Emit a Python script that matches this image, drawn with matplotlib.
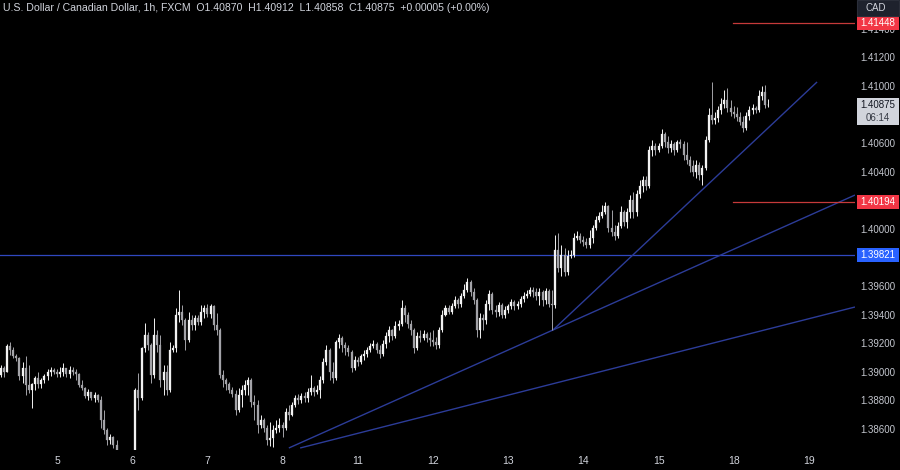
import matplotlib
matplotlib.use("Agg")
import matplotlib.pyplot as plt
from matplotlib.patches import Rectangle
from matplotlib.transforms import blended_transform_factory
import numpy as np

# ---------------- data (hourly candles, index 0 = day 5 00:00) ----------------
first_open = 1.38985
closes = [
    # day 4 (last 18 hours)
    1.39034, 1.39006, 1.39187, 1.39159, 1.39117, 1.39103, 1.38978, 1.39034, 1.38915, 1.38880, 1.38922, 1.38964, 1.38922, 1.38950, 1.38978, 1.39006, 1.39020, 1.39006,
    # day 5
    1.38992, 1.39006, 1.39034, 1.38992, 1.39020, 1.39006, 1.38992, 1.38915, 1.38894, 1.38838, 1.38866, 1.38824, 1.38845, 1.38810, 1.38670, 1.38600, 1.38530, 1.38551, 1.38495, 1.38425, 1.38355, 1.38320, 1.38334, 1.38348,
    # day 6
    1.38390, 1.38880, 1.38824, 1.39173, 1.39264, 1.39194, 1.38985, 1.39264, 1.39194, 1.38950, 1.39006, 1.38880, 1.39159, 1.39173, 1.39404, 1.39425, 1.39369, 1.39229, 1.39369, 1.39334, 1.39383, 1.39355, 1.39425, 1.39453,
    # day 7
    1.39411, 1.39467, 1.39334, 1.39299, 1.38985, 1.38950, 1.38922, 1.38880, 1.38852, 1.38740, 1.38845, 1.38880, 1.38915, 1.38950, 1.38796, 1.38775, 1.38635, 1.38670, 1.38614, 1.38530, 1.38544, 1.38600, 1.38614, 1.38635,
    # day 8
    1.38614, 1.38726, 1.38705, 1.38775, 1.38824, 1.38810, 1.38838, 1.38824, 1.38866, 1.38894, 1.38866, 1.38880, 1.38950, 1.39076, 1.39159, 1.39006, 1.38964, 1.39215, 1.39243, 1.39194, 1.39173, 1.39145, 1.39034, 1.39090,
    # day 11
    1.39076, 1.39117, 1.39131, 1.39159, 1.39187, 1.39201, 1.39159, 1.39131, 1.39201, 1.39257, 1.39299, 1.39257, 1.39327, 1.39341, 1.39453, 1.39404, 1.39341, 1.39299, 1.39173, 1.39257, 1.39243, 1.39271, 1.39243, 1.39229,
    # day 12
    1.39215, 1.39194, 1.39299, 1.39404, 1.39453, 1.39425, 1.39467, 1.39509, 1.39481, 1.39537, 1.39579, 1.39635, 1.39565, 1.39509, 1.39299, 1.39383, 1.39369, 1.39481, 1.39551, 1.39439, 1.39425, 1.39474, 1.39404, 1.39439,
    # day 13
    1.39467, 1.39495, 1.39467, 1.39481, 1.39516, 1.39537, 1.39551, 1.39579, 1.39565, 1.39537, 1.39565, 1.39509, 1.39572, 1.39481, 1.39474, 1.39859, 1.39733, 1.39824, 1.39705, 1.39817, 1.39824, 1.39943, 1.39957, 1.39929,
    # day 14
    1.39915, 1.39894, 1.39943, 1.40012, 1.40068, 1.40096, 1.40124, 1.40166, 1.40012, 1.39985, 1.39957, 1.40026, 1.40124, 1.40054, 1.40124, 1.40208, 1.40124, 1.40250, 1.40306, 1.40348, 1.40306, 1.40558, 1.40586, 1.40558,
    # day 15
    1.40586, 1.40670, 1.40614, 1.40572, 1.40600, 1.40558, 1.40614, 1.40600, 1.40523, 1.40488, 1.40446, 1.40404, 1.40453, 1.40383, 1.40432, 1.40628, 1.40803, 1.40768, 1.40782, 1.40838, 1.40880, 1.40908, 1.40852, 1.40824,
    # day 18
    1.40810, 1.40789, 1.40754, 1.40712, 1.40796, 1.40838, 1.40852, 1.40838, 1.40936, 1.40964, 1.40870, 1.40875,
]
highs = [
    1.39055, 1.39048, 1.39201, 1.39215, 1.39180, 1.39131, 1.39110, 1.39076, 1.39117, 1.39055, 1.38929, 1.38978, 1.39006, 1.38964, 1.38992, 1.39027, 1.39041, 1.39034,
    1.39027, 1.39041, 1.39069, 1.39027, 1.39048, 1.39041, 1.39027, 1.38999, 1.38950, 1.38901, 1.38887, 1.38866, 1.38866, 1.38852, 1.38838, 1.38740, 1.38614, 1.38572, 1.38558, 1.38530, 1.38446, 1.38390, 1.38376, 1.38390,
    1.38425, 1.38894, 1.38999, 1.39180, 1.39348, 1.39285, 1.39208, 1.39383, 1.39299, 1.39264, 1.39055, 1.39055, 1.39215, 1.39194, 1.39453, 1.39579, 1.39474, 1.39383, 1.39425, 1.39404, 1.39404, 1.39404, 1.39474, 1.39474,
    1.39481, 1.39481, 1.39474, 1.39418, 1.39313, 1.39020, 1.38964, 1.38936, 1.38901, 1.38880, 1.38894, 1.38915, 1.38950, 1.38971, 1.38964, 1.38845, 1.38810, 1.38705, 1.38684, 1.38635, 1.38656, 1.38635, 1.38670, 1.38684,
    1.38656, 1.38754, 1.38775, 1.38796, 1.38845, 1.38852, 1.38859, 1.38866, 1.38894, 1.38985, 1.38908, 1.38915, 1.38978, 1.39103, 1.39194, 1.39173, 1.39076, 1.39229, 1.39271, 1.39257, 1.39215, 1.39194, 1.39159, 1.39117,
    1.39110, 1.39131, 1.39159, 1.39180, 1.39208, 1.39229, 1.39215, 1.39194, 1.39229, 1.39285, 1.39327, 1.39306, 1.39362, 1.39369, 1.39509, 1.39474, 1.39425, 1.39369, 1.39313, 1.39285, 1.39299, 1.39299, 1.39285, 1.39285,
    1.39299, 1.39250, 1.39320, 1.39439, 1.39474, 1.39474, 1.39488, 1.39537, 1.39523, 1.39558, 1.39621, 1.39663, 1.39649, 1.39593, 1.39523, 1.39418, 1.39411, 1.39509, 1.39579, 1.39565, 1.39474, 1.39495, 1.39488, 1.39467,
    1.39481, 1.39516, 1.39509, 1.39502, 1.39537, 1.39565, 1.39579, 1.39600, 1.39600, 1.39593, 1.39593, 1.39579, 1.39593, 1.39586, 1.39579, 1.39964, 1.39978, 1.39894, 1.39873, 1.39859, 1.39859, 1.39978, 1.39992, 1.39978,
    1.39957, 1.39943, 1.39999, 1.40033, 1.40096, 1.40124, 1.40173, 1.40194, 1.40173, 1.40138, 1.40033, 1.40054, 1.40166, 1.40138, 1.40152, 1.40243, 1.40264, 1.40278, 1.40348, 1.40376, 1.40376, 1.40586, 1.40628, 1.40607,
    1.40607, 1.40705, 1.40684, 1.40656, 1.40628, 1.40614, 1.40628, 1.40635, 1.40621, 1.40614, 1.40516, 1.40488, 1.40488, 1.40474, 1.40453, 1.40656, 1.40852, 1.41034, 1.40824, 1.40866, 1.40922, 1.40978, 1.40992, 1.40908,
    1.40866, 1.40859, 1.40824, 1.40796, 1.40824, 1.40866, 1.40880, 1.40866, 1.40978, 1.41006, 1.41013, 1.40912,
]
lows = [
    1.38971, 1.38971, 1.39006, 1.39124, 1.39103, 1.39083, 1.38950, 1.38929, 1.38845, 1.38859, 1.38754, 1.38880, 1.38894, 1.38894, 1.38929, 1.38950, 1.38978, 1.38992,
    1.38971, 1.38971, 1.38978, 1.38971, 1.38964, 1.38985, 1.38950, 1.38901, 1.38880, 1.38824, 1.38810, 1.38810, 1.38796, 1.38796, 1.38614, 1.38572, 1.38495, 1.38502, 1.38474, 1.38376, 1.38320, 1.38264, 1.38285, 1.38306,
    1.38320, 1.38376, 1.38740, 1.38810, 1.39145, 1.39159, 1.38929, 1.38964, 1.39145, 1.38901, 1.38845, 1.38845, 1.38866, 1.39145, 1.39145, 1.39355, 1.39334, 1.39159, 1.39215, 1.39299, 1.39299, 1.39334, 1.39334, 1.39383,
    1.39390, 1.39383, 1.39299, 1.39264, 1.38964, 1.38901, 1.38880, 1.38859, 1.38831, 1.38705, 1.38726, 1.38761, 1.38845, 1.38845, 1.38761, 1.38670, 1.38579, 1.38614, 1.38586, 1.38495, 1.38488, 1.38481, 1.38579, 1.38586,
    1.38551, 1.38600, 1.38670, 1.38698, 1.38761, 1.38782, 1.38789, 1.38796, 1.38796, 1.38845, 1.38838, 1.38852, 1.38824, 1.38929, 1.39055, 1.38950, 1.38929, 1.38950, 1.39173, 1.39145, 1.39124, 1.39117, 1.39006, 1.39020,
    1.39048, 1.39062, 1.39090, 1.39110, 1.39145, 1.39173, 1.39138, 1.39103, 1.39117, 1.39173, 1.39215, 1.39229, 1.39243, 1.39299, 1.39327, 1.39355, 1.39313, 1.39264, 1.39138, 1.39159, 1.39215, 1.39229, 1.39215, 1.39187,
    1.39187, 1.39166, 1.39173, 1.39285, 1.39397, 1.39411, 1.39411, 1.39453, 1.39453, 1.39460, 1.39523, 1.39565, 1.39537, 1.39481, 1.39250, 1.39243, 1.39299, 1.39341, 1.39439, 1.39411, 1.39390, 1.39397, 1.39383, 1.39383,
    1.39418, 1.39446, 1.39439, 1.39446, 1.39460, 1.39495, 1.39523, 1.39537, 1.39530, 1.39509, 1.39474, 1.39467, 1.39481, 1.39460, 1.39299, 1.39453, 1.39705, 1.39677, 1.39677, 1.39684, 1.39803, 1.39810, 1.39929, 1.39908,
    1.39887, 1.39873, 1.39873, 1.39908, 1.39999, 1.40054, 1.40082, 1.40110, 1.39985, 1.39957, 1.39929, 1.39943, 1.40012, 1.40026, 1.40012, 1.40082, 1.40082, 1.40096, 1.40222, 1.40264, 1.40278, 1.40292, 1.40516, 1.40523,
    1.40544, 1.40572, 1.40579, 1.40537, 1.40544, 1.40523, 1.40544, 1.40572, 1.40488, 1.40460, 1.40404, 1.40376, 1.40362, 1.40348, 1.40313, 1.40418, 1.40614, 1.40740, 1.40740, 1.40754, 1.40810, 1.40852, 1.40824, 1.40796,
    1.40782, 1.40761, 1.40733, 1.40684, 1.40698, 1.40768, 1.40810, 1.40817, 1.40824, 1.40908, 1.40852, 1.40858,
]
start_index = -18
day_labels = ["5", "6", "7", "8", "11", "12", "13", "14", "15", "18", "19"]
# visible price-scale labels (the others are hidden behind the tag boxes)
price_ticks = [1.386, 1.388, 1.390, 1.392, 1.394, 1.396, 1.400,
               1.404, 1.406, 1.410, 1.412, 1.414]
# trend lines: (index, price) anchor pairs
trend_lines = [
    ((158.3, 1.39299), (242.6, 1.41034)),
    ((74.0, 1.38474), (254.7, 1.40243)),
    ((77.6, 1.38474), (254.7, 1.39460)),
]
hline_blue = 1.39821
red_levels = [1.41448, 1.40194]
red_start = 215.8
last_price = 1.40875
timer_text = "06:14"
header = ("U.S. Dollar / Canadian Dollar, 1h, FXCM  O1.40870  H1.40912  "
          "L1.40858  C1.40875  +0.00005 (+0.00%)")

# ---------------- figure ----------------
W, H = 900, 470
fig = plt.figure(figsize=(W / 100, H / 100), dpi=100, facecolor="black")
ax = fig.add_axes([0, 20 / H, 855 / W, 450 / H])
ax.set_facecolor("black")
XMIN, XMAX = -18.19, 254.7
YMIN, YMAX = 1.38460, 1.41607
ax.set_xlim(XMIN, XMAX)
ax.set_ylim(YMIN, YMAX)
for s in ax.spines.values():
    s.set_visible(False)

c = np.array(closes)
h = np.array(highs)
l = np.array(lows)
o = np.concatenate([[first_open], c[:-1]])
x = np.arange(start_index, start_index + len(c))
h = np.maximum(h, np.maximum(o, c))
l = np.minimum(l, np.minimum(o, c))
up = c >= o
cols = np.where(up, "#f2f2f2", "#a3a3a8")

ax.vlines(x, l, h, colors=cols, linewidth=0.7, zorder=3)
body_lo = np.minimum(o, c)
body_h = np.maximum(np.abs(c - o), 0.00003)
ax.bar(x, body_h, bottom=body_lo, width=0.64, color=cols, edgecolor=cols,
       linewidth=0.2, zorder=4)

# lines
ax.axhline(hline_blue, color="#3048c0", linewidth=0.9, zorder=2)
for (x0, y0), (x1, y1) in trend_lines:
    ax.plot([x0, x1], [y0, y1], color="#2c3c98", linewidth=1.0, zorder=2,
            solid_capstyle="butt")
for lv in red_levels:
    ax.plot([red_start, XMAX], [lv, lv], color="#c63a3a", linewidth=0.9, zorder=2)

# x labels
ax.set_xticks([24 * k for k in range(len(day_labels))])
ax.set_xticklabels(day_labels)
ax.tick_params(axis="x", length=0, pad=4, labelsize=7.5, colors="#d1d4dc")
for t in ax.get_xticklabels():
    t.set_fontfamily("Liberation Sans")
ax.set_yticks([])

# right price scale
tr = blended_transform_factory(fig.transFigure, ax.transData)
px = 1.0 / 14300  # price per pixel
label_x = 878 / W
for p in price_ticks:
    ax.text(label_x, p, f"{p:.5f}", transform=tr, ha="center", va="center",
            fontsize=7, color="#c4c7cf", family="Liberation Sans", clip_on=False,
            zorder=5)

def box(price, text, fc, tc, top_px=7, bot_px=7, z=10):
    ax.add_patch(Rectangle((857 / W, price - bot_px * px), 42 / W,
                           (top_px + bot_px) * px, transform=tr, facecolor=fc,
                           edgecolor="none", clip_on=False, zorder=z))
    ax.text(label_x, price, text, transform=tr, ha="center", va="center",
            fontsize=7, color=tc, family="Liberation Sans", clip_on=False,
            zorder=z + 1)

box(red_levels[0], f"{red_levels[0]:.5f}", "#f23645", "white")
box(red_levels[1], f"{red_levels[1]:.5f}", "#f23645", "white")
box(hline_blue, f"{hline_blue:.5f}", "#2962ff", "white")
box(last_price, f"{last_price:.5f}", "#d1d4dc", "#131722", top_px=7, bot_px=20)
ax.text(label_x, last_price - 13 * px, timer_text, transform=tr, ha="center",
        va="center", fontsize=7, color="#363a45", family="Liberation Sans",
        clip_on=False, zorder=12)

# CAD box
fig.patches.append(Rectangle((857 / W, 1 - 16 / H), 42 / W, 16 / H,
                             transform=fig.transFigure, facecolor="#1e222d",
                             edgecolor="#2a2e39", linewidth=0.8, zorder=20))
fig.text(876 / W, 1 - 8 / H, "CAD", ha="center", va="center", fontsize=7,
         color="#d1d4dc", family="Liberation Sans", zorder=21)

# header
fig.text(3 / W, 1 - 8 / H, header, ha="left", va="center", fontsize=7.6,
         color="#d1d4dc", family="Liberation Sans")

fig.savefig("out.png", dpi=100, facecolor="black")
